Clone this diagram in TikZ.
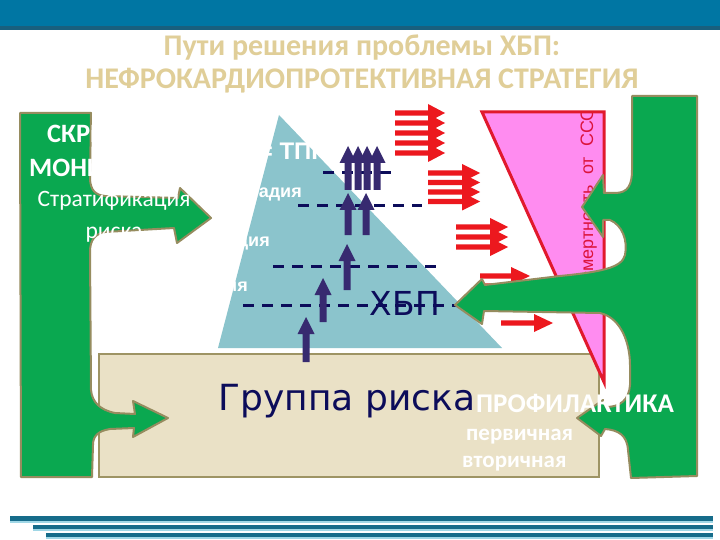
\documentclass[tikz,border=0pt]{standalone}
\usepackage{fontspec}
\setmainfont{Carlito}
\newfontfamily\carlito{Carlito}
\newfontfamily\libsans{Liberation Sans}
\newfontfamily\dejavu{DejaVu Sans}
\definecolor{barblue}{RGB}{0,118,163}
\definecolor{bardark}{RGB}{25,95,125}
\definecolor{titlecol}{RGB}{224,206,152}
\definecolor{stripecol}{RGB}{22,108,138}
\definecolor{stripelight}{RGB}{160,215,230}
\definecolor{triblue}{RGB}{139,196,204}
\definecolor{boxfill}{RGB}{234,225,198}
\definecolor{boxedge}{RGB}{158,148,100}
\definecolor{navy}{RGB}{12,12,90}
\definecolor{uparrcol}{RGB}{55,42,112}
\definecolor{redarr}{RGB}{236,24,30}
\definecolor{pinkfill}{RGB}{255,140,240}
\definecolor{pinkedge}{RGB}{225,25,45}
\definecolor{mortred}{RGB}{220,20,60}
\definecolor{greenfill}{RGB}{10,168,80}
\definecolor{greenedge}{RGB}{150,140,95}
\newcommand\myup[3]{\fill[uparrcol] (#1-3.5,#2) -- (#1-3.5,#3+17) -- (#1-8.5,#3+17) -- (#1,#3) -- (#1+8.5,#3+17) -- (#1+3.5,#3+17) -- (#1+3.5,#2) -- cycle;}
\newcommand\myright[4]{\fill[redarr] (#1,#4-2.7) -- (#2,#4-2.7) -- (#2,#4-9) -- (#3,#4) -- (#2,#4+9) -- (#2,#4+2.7) -- (#1,#4+2.7) -- cycle;}
\tikzset{
  txt/.style={inner sep=0pt},
  ttl/.style={txt, anchor=base, text=titlecol, font=\carlito\bfseries\fontsize{30}{30}\selectfont},
  navydash/.style={draw=navy, line width=3pt, dash pattern=on 11pt off 8pt},
  greenshape/.style={fill=greenfill, draw=greenedge, line width=2pt, line join=round},
  whitebig/.style={txt, text=white, font=\carlito\bfseries\fontsize{26.5}{26.5}\selectfont},
  whitereg/.style={txt, text=white, font=\carlito\fontsize{23.5}{23.5}\selectfont},
  tritext/.style={txt, text=white, font=\libsans\bfseries\fontsize{18}{18}\selectfont},
}
\begin{document}
\begin{tikzpicture}[x=1pt,y=-1pt]
\useasboundingbox (0,0) rectangle (720,540);
\fill[white] (0,0) rectangle (720,540);
% top bar
\fill[barblue] (0,0) rectangle (720,26);
\fill[bardark] (0,26) rectangle (720,30);
% title
\node[ttl] (t1) at (362,56) {Пути решения проблемы ХБП:};
\node[ttl] (t2) at (362,89) {НЕФРОКАРДИОПРОТЕКТИВНАЯ СТРАТЕГИЯ};
% bottom stripes
\fill[stripecol] (10,516) rectangle (713,521);
\fill[stripelight] (10,521) rectangle (713,522.5);
\fill[stripecol] (33,525) rectangle (713,529);
\fill[stripelight] (33,529) rectangle (713,530.5);
\fill[stripecol] (46,533) rectangle (713,537);
\fill[stripelight] (46,537) rectangle (713,538.5);
% pyramid
\fill[triblue] (279,115) -- (502,348) -- (218,348) -- cycle;
% risk group box
\node[draw=boxedge, fill=boxfill, line width=2pt, minimum width=500pt, minimum height=123pt, inner sep=0pt, anchor=north west] (box) at (98,353) {};
\node[txt, anchor=base, text=navy, font=\dejavu\fontsize{36}{36}\selectfont] (grp) at (347,410) {Группа риска};
% dashed levels
\draw[navydash] (323,173) -- (397,173);
\draw[navydash] (298,206) -- (422,206);
\draw[navydash] (273,266) -- (443,266);
\draw[navydash] (243,305) -- (460,305);
\node[txt, anchor=base, text=navy, font=\dejavu\fontsize{33}{33}\selectfont] (xbp) at (405,315) {ХБП};
% up arrows
\myup{306}{362}{317}
\myup{323}{322}{278}
\myup{347}{290}{244}
\myup{348}{235}{193}
\myup{366}{235}{193}
\myup{348}{190}{146}
\myup{358}{190}{146}
\myup{367}{190}{146}
\myup{377}{190}{146}
% red arrows
\foreach \yy in {113,123,133,143,153} {\myright{395}{428}{445}{\yy}}
\foreach \yy in {173,182.5,192,201.5} {\myright{428}{462}{480}{\yy}}
\foreach \yy in {227,237,247} {\myright{456}{490}{508}{\yy}}
\foreach \yy in {276,286} {\myright{480}{511}{530}{\yy}}
\myright{501}{534}{553}{323}
% mortality triangle
\fill[pinkfill] (482,112) -- (604,112) -- (604,382) -- cycle;
\begin{scope}
\clip (482,112) -- (604,112) -- (604,382) -- cycle;
\node[txt, rotate=90, anchor=base east, text=mortred, font=\libsans\fontsize{18}{18}\selectfont] (mort) at (593,107) {смертность\ \ от\ \ ССО};
\end{scope}
\draw[pinkedge, line width=3pt, line join=miter] (482,112) -- (604,112) -- (604,382) -- cycle;
% left green shape
\filldraw[greenshape] (20,113) -- (91,113) -- (90,180) .. controls (91,190) and (95,195) .. (105,196) -- (178,198) -- (180,188) -- (211,218) -- (177,243) -- (174,228) -- (105,232) .. controls (95,234) and (90,240) .. (90,252) -- (91,390) .. controls (92,402) and (100,410) .. (115,413) -- (135,414) -- (133,401) -- (168,418) -- (133,437) -- (134,428) -- (110,429) .. controls (98,431) and (93,436) .. (93,445) -- (92,477) -- (21,477) -- cycle;
% right green shape
\filldraw[greenshape] (632,96) -- (697,96) -- (697,476) -- (631,478) -- (628,450) .. controls (627,435) and (618,430) .. (605,429) -- (601,436) -- (577,418) -- (603,400) -- (606,407) .. controls (620,407) and (629,400) .. (630,385) -- (630,365) .. controls (630,345) and (622,318) .. (600,313) -- (484,311) -- (482,324) -- (455,305) -- (482,279) -- (485,285) -- (560,276) .. controls (600,272) and (622,268) .. (625,255) .. controls (628,240) and (622,225) .. (610,220) -- (603,220) -- (603,237) -- (582,207) -- (603,175) -- (604,193) -- (615,193) .. controls (628,193) and (632,185) .. (632,170) -- cycle;
% white texts
\node[whitebig, anchor=base west] (scr) at (47,143) {СКРИНИНГ};
\node[whitebig, anchor=base west] (mon) at (29,177) {МОНИТОРИНГ};
\node[whitereg, anchor=base] (strat) at (114,207) {Стратификация};
\node[whitereg, anchor=base] (risk) at (114,239) {риска};
\node[txt, anchor=base east, text=white, font=\libsans\bfseries\fontsize{24}{24}\selectfont] (tpn) at (329,160) {5 стадия = ТПН};
\node[tritext, anchor=base east] (s4) at (302,198) {4 стадия};
\node[tritext, anchor=base east] (s3) at (270,247) {3 стадия};
\node[tritext, anchor=base east] (s2) at (248,291) {2 стадия};
\node[txt, anchor=base west, text=white, font=\carlito\bfseries\fontsize{27}{27}\selectfont] (prof) at (476,412) {ПРОФИЛАКТИКА};
\node[txt, anchor=base west, text=white, font=\carlito\bfseries\fontsize{23}{23}\selectfont] (prim) at (466,440) {первичная};
\node[txt, anchor=base west, text=white, font=\carlito\bfseries\fontsize{23}{23}\selectfont] (sec) at (462,467) {вторичная};
\end{tikzpicture}
\end{document}
